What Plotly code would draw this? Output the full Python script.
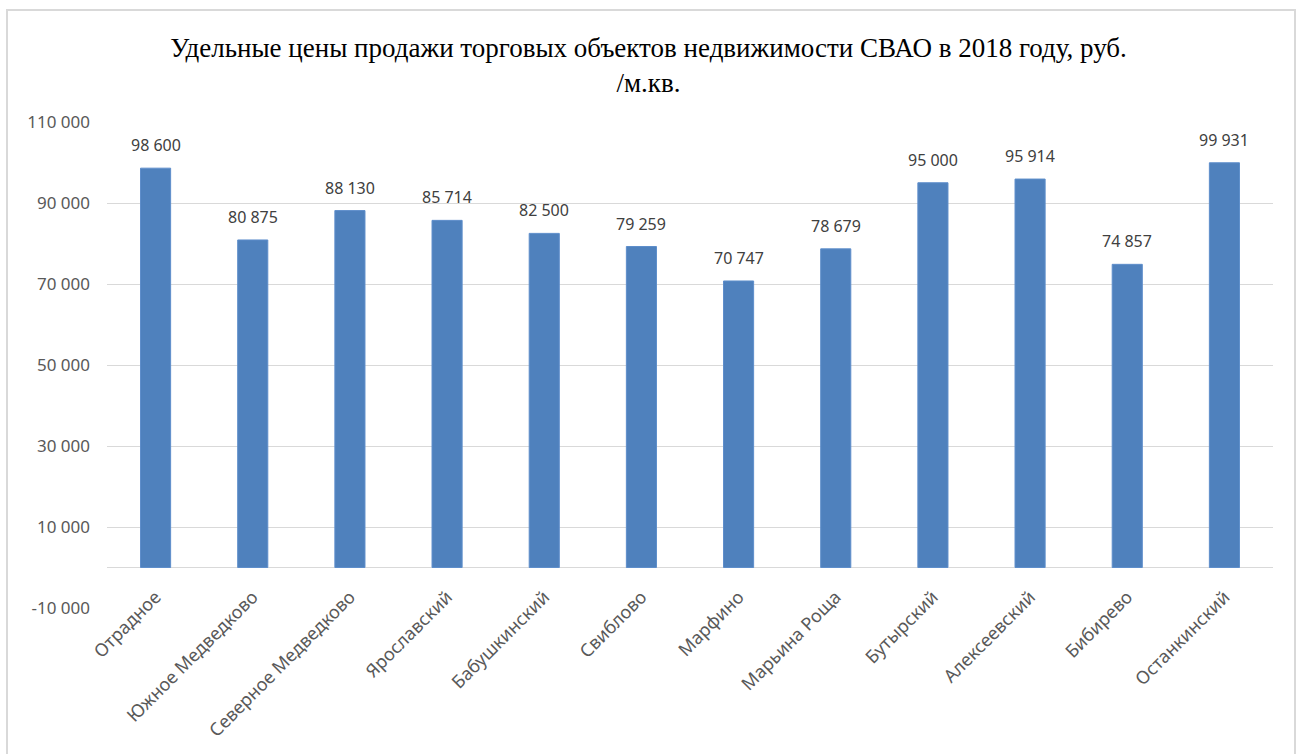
import plotly.graph_objects as go

categories = ["Отрадное", "Южное Медведково", "Северное Медведково", "Ярославский",
              "Бабушкинский", "Свиблово", "Марфино", "Марьина Роща", "Бутырский",
              "Алексеевский", "Бибирево", "Останкинский"]
values = [98600, 80875, 88130, 85714, 82500, 79259, 70747, 78679, 95000, 95914, 74857, 99931]
tick_vals = [-10000, 10000, 30000, 50000, 70000, 90000, 110000]


def fmt(v):
    return f"{v:,}".replace(",", " ")


tick_text = [fmt(v) for v in tick_vals]
labels = [fmt(v) for v in values]

L, R, T, B = 107, 24, 122, 146
W, H = 1297, 754
pw, ph = W - L - R, H - T - B

fig = go.Figure(go.Bar(
    x=categories, y=values,
    marker=dict(color="#4F81BD", line=dict(color="#5E8ECB", width=1)),
    cliponaxis=False, width=0.31,
))

for c, v, t in zip(categories, values, labels):
    fig.add_annotation(x=c, y=v, text=t, showarrow=False, yanchor="middle", yshift=23,
                       font=dict(family="Noto Sans", size=16, color="#404040"))

fig.update_layout(
    width=W, height=H,
    margin=dict(l=L, r=R, t=T, b=B),
    paper_bgcolor="white", plot_bgcolor="white",
    showlegend=False,
    title=dict(
        text="Удельные цены продажи торговых объектов недвижимости СВАО в 2018 году, руб.<br>/м.кв.",
        x=0.5, xanchor="center", y=1 - 57 / H, yanchor="middle",
        font=dict(family="Liberation Serif", size=27, color="#000000"),
    ),
    xaxis=dict(tickangle=-45, tickfont=dict(family="Noto Sans", size=18, color="#595959"),
               showline=False, showgrid=False, ticks="", automargin=False,
               ticklabelstandoff=-26),
    yaxis=dict(range=[-10000, 110000], tickvals=tick_vals, ticktext=tick_text,
               tickfont=dict(family="Noto Sans", size=17, color="#595959"),
               showgrid=True, gridcolor="#D9D9D9", gridwidth=1,
               zeroline=True, zerolinecolor="#D9D9D9", zerolinewidth=1,
               showline=False, ticks="", ticklabelstandoff=16, automargin=False),
    shapes=[dict(type="rect", xref="paper", yref="paper",
                 x0=(7 - L) / pw, x1=(1295 - L) / pw,
                 y0=-0.5, y1=(H - B - 10) / ph,
                 line=dict(color="#D9D9D9", width=2), fillcolor="rgba(0,0,0,0)", layer="below")],
)

fig.write_html("out.html")
